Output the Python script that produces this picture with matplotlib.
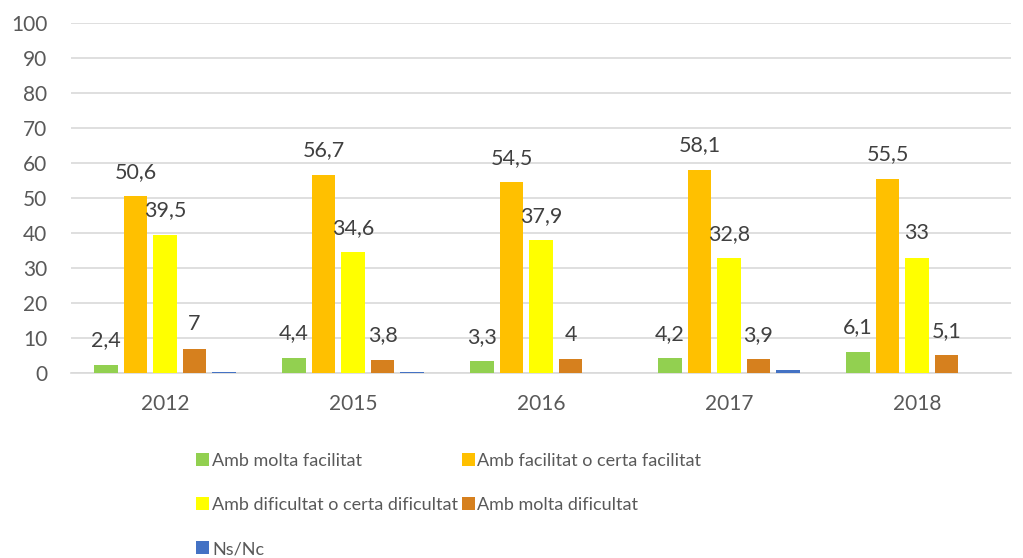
import matplotlib
matplotlib.use("Agg")
import matplotlib.pyplot as plt
import numpy as np

years = ["2012", "2015", "2016", "2017", "2018"]
series_names = ["Amb molta facilitat", "Amb facilitat o certa facilitat",
                "Amb dificultat o certa dificultat", "Amb molta dificultat", "Ns/Nc"]
molta_facilitat = [2.4, 4.4, 3.3, 4.2, 6.1]
facilitat = [50.6, 56.7, 54.5, 58.1, 55.5]
dificultat = [39.5, 34.6, 37.9, 32.8, 33.0]
molta_dificultat = [7.0, 3.8, 4.0, 3.9, 5.1]
ns_nc = [0.3, 0.3, 0.0, 0.8, 0.0]
colors = ["#92d050", "#ffc000", "#ffff00", "#d6801e", "#4472c4"]
show_labels = [True, True, True, True, False]

def fmt(v):
    s = ("%.1f" % v).rstrip("0").rstrip(".")
    return s.replace(".", ",")

plt.rcParams['font.family'] = ['Lato', 'DejaVu Sans']
fig = plt.figure(figsize=(10.23, 5.58), dpi=100)
ax = fig.add_axes([71/1023, 1-373/558, 940/1023, 350/558])

data = [molta_facilitat, facilitat, dificultat, molta_dificultat, ns_nc]
x = np.arange(len(years))
slot = 0.157
width = 0.123
handles = []
for i, (vals, c) in enumerate(zip(data, colors)):
    pos = x + (i - 2) * slot
    b = ax.bar(pos, vals, width, color=c, label=series_names[i], zorder=3)
    handles.append(b)
    if show_labels[i]:
        for p, v in zip(pos, vals):
            ax.annotate(fmt(v), (p, v), xytext=(0, 17.5), textcoords="offset points",
                        ha="center", va="center", fontsize=15.5, color="#404040")

ax.set_ylim(0, 100)
ax.set_xlim(-0.5, len(years) - 0.5)
ax.set_yticks(range(0, 101, 10))
ax.set_xticks(x)
ax.set_xticklabels(years)
ax.tick_params(axis="both", length=0, labelsize=15, colors="#595959")
ax.tick_params(axis="x", pad=15)
ax.tick_params(axis="y", pad=17)
ax.grid(axis="y", color="#d9d9d9", linewidth=1.2, zorder=0)
for s in ["top", "right", "left"]:
    ax.spines[s].set_visible(False)
ax.spines["bottom"].set_color("#d9d9d9")
ax.spines["bottom"].set_linewidth(1.2)

order = [0, 2, 4, 1, 3]
leg = fig.legend([handles[i] for i in order], [series_names[i] for i in order],
                 ncol=2, loc="upper left", bbox_to_anchor=(189/1023, 1-446/558),
                 frameon=False, fontsize=13, handlelength=0.72, handleheight=0.72,
                 handletextpad=0.15, columnspacing=0.2, labelspacing=1.55,
                 labelcolor="#595959", borderaxespad=0)

fig.savefig("out.png", dpi=100)
